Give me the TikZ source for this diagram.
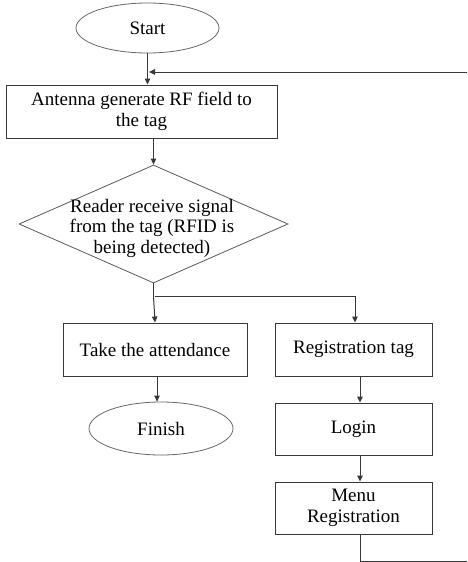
\documentclass[tikz,border=0pt]{standalone}
\usepackage{fontspec}
\setmainfont{Liberation Serif}
\usetikzlibrary{shapes.geometric,arrows.meta}

\tikzset{
  flowline/.style={draw=black!78, line width=1pt},
  arr/.style={flowline, -{Triangle[length=6pt,width=5.5pt]}},
  procbox/.style={rectangle, draw=black!78, line width=1pt, inner sep=0pt,
    align=center, font=\fontsize{19}{21.5}\selectfont},
  terminal/.style={ellipse, draw=black!60, line width=0.8pt, inner sep=0pt,
    font=\fontsize{19}{21.5}\selectfont},
  decision/.style={diamond, draw=black!65, line width=0.8pt, inner sep=0pt},
  lbl/.style={align=center, inner sep=0pt, font=\fontsize{19}{20.5}\selectfont}
}

\begin{document}
\begin{tikzpicture}[x=1pt, y=-1pt]
  \useasboundingbox (0,0) rectangle (467,562);

  % nodes
  \node[terminal, minimum width=143pt, minimum height=50pt] (start) at (147.5,28) {Start};
  \node[procbox, minimum width=271pt, minimum height=53pt] (antenna) at (141.5,111.5)
    {Antenna generate RF field to\\the tag};
  \node[decision, minimum width=269pt, minimum height=118pt] (reader) at (153.5,224) {};
  \node[lbl] (readertxt) at (152,228) {Reader receive signal\\from the tag (RFID is\\being detected)};
  \node[procbox, minimum width=184pt, minimum height=53pt] (take) at (155,349.5) {Take the attendance};
  \node[procbox, minimum width=157pt, minimum height=53pt] (reg) at (353.5,349.5) {Registration tag};
  \node[terminal, minimum width=144pt, minimum height=53pt] (finish) at (161,428.5) {Finish};
  \node[procbox, minimum width=157pt, minimum height=52pt] (login) at (353.5,429) {Login};
  \node[procbox, minimum width=157pt, minimum height=52pt] (menu) at (353.5,508) {Menu\\Registration};

  % helper points
  \coordinate (fb) at (467,72);
  \coordinate (split) at (155,296);
  \coordinate (ret) at (467,561);

  % connectors
  \draw[arr] (start.south) -- (start.south |- antenna.north);
  \draw[arr] (fb) -- ([xshift=1.5pt]fb -| start.south);
  \draw[arr] (reader.north |- antenna.south) -- (reader.north);
  \draw[flowline] (reader.south) -- (reader.south |- split);
  \draw[arr] (reader.south |- split) -- (take.north);
  \draw[arr] (split) -| ([xshift=1.5pt]reg.north);
  \draw[arr] ([xshift=2pt]take.south) -- ([xshift=2pt]take.south |- finish.north);
  \draw[arr] ([xshift=6.5pt]reg.south) -- ([xshift=6.5pt]login.north);
  \draw[arr] ([xshift=6.5pt]login.south) -- ([xshift=6.5pt]menu.north);
  \draw[flowline] ([xshift=6.5pt]menu.south) |- (ret);
\end{tikzpicture}
\end{document}
